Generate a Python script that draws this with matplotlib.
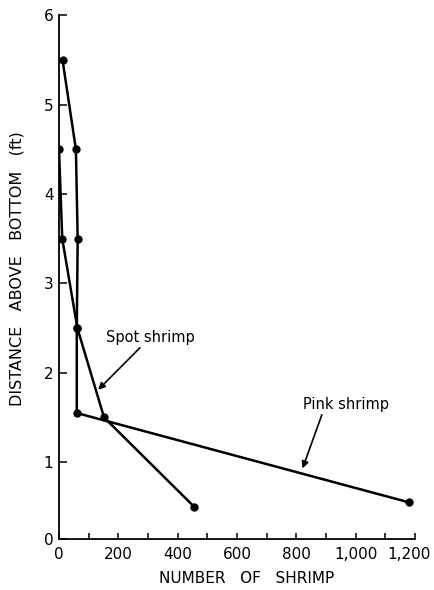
import matplotlib
matplotlib.use("Agg")
import matplotlib.pyplot as plt
from matplotlib.ticker import MultipleLocator, FixedLocator
from matplotlib.transforms import ScaledTranslation

# ---- data ----
pink_depth = [0.55, 1.55, 2.5, 3.5, 4.5, 5.5]
pink_count = [1180, 60, 60, 63, 57, 12]
spot_depth = [0.5, 1.5, 2.5, 3.5, 4.5]
spot_count = [456, 152, 62, 11, 0]

x_ticks = [0, 200, 400, 600, 800, 1000, 1200]
x_tick_labels = ["0", "200", "400", "600", "800", "1,000", "1,200"]
y_ticks = [1, 2, 3, 4, 5, 6]
y_tick_labels = ["1", "2", "3", "4", "5", "6"]
y_bottom = 0.14  # where the drawn x-axis sits on the reference's y scale

plt.rcParams['font.family'] = ['DejaVu Sans']

fig = plt.figure(figsize=(4.35, 5.90), dpi=100)
ax = fig.add_axes([0.1356, 0.0864, 0.954 - 0.1356, 0.974 - 0.0864])

kw = dict(color='black', lw=1.8, marker='o', markersize=5, solid_joinstyle='round')
ax.plot(pink_count, pink_depth, **kw)
ax.plot(spot_count, spot_depth, **kw)

ax.set_xlim(0, 1200)
ax.set_ylim(y_bottom, 6)

for s in ['top', 'right']:
    ax.spines[s].set_visible(False)
for s in ['left', 'bottom']:
    ax.spines[s].set_linewidth(1.3)

ax.xaxis.set_major_locator(FixedLocator(x_ticks))
ax.set_xticklabels(x_tick_labels)
ax.xaxis.set_minor_locator(MultipleLocator(100))
ax.yaxis.set_major_locator(FixedLocator([y_bottom] + y_ticks))
ax.set_yticklabels(["0"] + y_tick_labels)

ax.tick_params(axis='x', which='both', direction='in', length=4, width=1.1,
               labelsize=11, pad=6)
ax.tick_params(axis='y', which='major', direction='in', length=6, width=1.1,
               labelsize=11, pad=4)

# shift the last x label a little left so it stays inside the figure
last = ax.get_xticklabels()[-1]
last.set_transform(last.get_transform() + ScaledTranslation(-4 / 72, 0, fig.dpi_scale_trans))

ax.set_xlabel("NUMBER   OF   SHRIMP", fontsize=11)
ax.xaxis.set_label_coords(0.528, -0.062)
ax.set_ylabel("DISTANCE   ABOVE   BOTTOM   (ft)", fontsize=11.5)
ax.yaxis.set_label_coords(-0.097, 0.517)

arrow = dict(arrowstyle='-|>', color='black', lw=1.2, mutation_scale=10,
             shrinkA=0, shrinkB=0)

ax.text(307, 2.40, "Spot shrimp", fontsize=10.5, ha='center', va='center')
ax.annotate("", xy=(132, 1.81), xytext=(273, 2.28), arrowprops=arrow)

ax.text(967, 1.64, "Pink shrimp", fontsize=10.5, ha='center', va='center')
ax.annotate("", xy=(821, 0.93), xytext=(886, 1.53), arrowprops=arrow)

fig.savefig("out.png", dpi=100)
